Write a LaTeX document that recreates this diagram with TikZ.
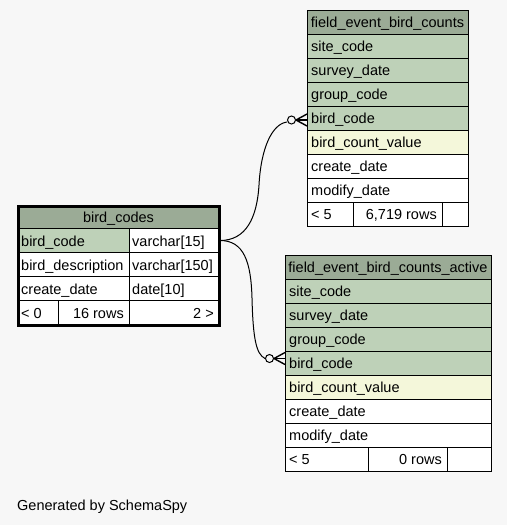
\documentclass[tikz,border=0pt]{standalone}
\usepackage{fontspec}
\setmainfont{Liberation Sans}
\definecolor{hdr}{HTML}{9BAB96}
\definecolor{pk}{HTML}{BED1B8}
\definecolor{idx}{HTML}{F4F7DA}
\definecolor{bgc}{HTML}{F7F7F7}
\tikzset{
  cellbox/.style={draw=black,line width=1pt},
  ltext/.style={anchor=base west,inner sep=0pt,font=\fontsize{14.5}{16}\selectfont},
  rtext/.style={anchor=base east,inner sep=0pt,font=\fontsize{14.5}{16}\selectfont},
  htext/.style={anchor=base,inner sep=0pt,font=\fontsize{14.5}{16}\selectfont},
  conn/.style={draw=black,line width=1pt},
  odot/.style={circle,draw=black,fill=bgc,line width=1pt,minimum size=8pt,inner sep=0pt},
  crow/.style={draw=black,line width=1.4pt}
}
\begin{document}
\begin{tikzpicture}[x=1pt,y=-1pt]
\fill[bgc] (0,0) rectangle (507,525);
\useasboundingbox (0,0) rectangle (507,525);

% ---------- field_event_bird_counts ----------
\filldraw[cellbox,fill=hdr] (307,10) rectangle (468,34);
\filldraw[cellbox,fill=pk] (307,34) rectangle (468,58);
\filldraw[cellbox,fill=pk] (307,58) rectangle (468,82);
\filldraw[cellbox,fill=pk] (307,82) rectangle (468,106);
\filldraw[cellbox,fill=pk] (307,106) rectangle (468,130);
\filldraw[cellbox,fill=idx] (307,130) rectangle (468,154);
\filldraw[cellbox,fill=white] (307,154) rectangle (468,178);
\filldraw[cellbox,fill=white] (307,178) rectangle (468,202);
\filldraw[cellbox,fill=white] (307,202) rectangle (353,226);
\filldraw[cellbox,fill=white] (353,202) rectangle (442,226);
\filldraw[cellbox,fill=white] (442,202) rectangle (468,226);
\node[htext] (fe-h) at (387.5,27) {field\_event\_bird\_counts};
\node[ltext] (fe-1) at (311,51) {site\_code};
\node[ltext] (fe-2) at (311,75) {survey\_date};
\node[ltext] (fe-3) at (311,99) {group\_code};
\node[ltext] (fe-4) at (311,123) {bird\_code};
\node[ltext] (fe-5) at (311,147) {bird\_count\_value};
\node[ltext] (fe-6) at (311,171) {create\_date};
\node[ltext] (fe-7) at (311,195) {modify\_date};
\node[ltext] (fe-f1) at (311,219) {< 5};
\node[rtext] (fe-f2) at (437,219) {6,719 rows};

% ---------- field_event_bird_counts_active ----------
\filldraw[cellbox,fill=hdr] (285,255) rectangle (491,279);
\filldraw[cellbox,fill=pk] (285,279) rectangle (491,303);
\filldraw[cellbox,fill=pk] (285,303) rectangle (491,327);
\filldraw[cellbox,fill=pk] (285,327) rectangle (491,351);
\filldraw[cellbox,fill=pk] (285,351) rectangle (491,375);
\filldraw[cellbox,fill=idx] (285,375) rectangle (491,399);
\filldraw[cellbox,fill=white] (285,399) rectangle (491,423);
\filldraw[cellbox,fill=white] (285,423) rectangle (491,447);
\filldraw[cellbox,fill=white] (285,447) rectangle (368,471);
\filldraw[cellbox,fill=white] (368,447) rectangle (447,471);
\filldraw[cellbox,fill=white] (447,447) rectangle (491,471);
\node[htext] (fa-h) at (388,272) {field\_event\_bird\_counts\_active};
\node[ltext] (fa-1) at (289,296) {site\_code};
\node[ltext] (fa-2) at (289,320) {survey\_date};
\node[ltext] (fa-3) at (289,344) {group\_code};
\node[ltext] (fa-4) at (289,368) {bird\_code};
\node[ltext] (fa-5) at (289,392) {bird\_count\_value};
\node[ltext] (fa-6) at (289,416) {create\_date};
\node[ltext] (fa-7) at (289,440) {modify\_date};
\node[ltext] (fa-f1) at (289,464) {< 5};
\node[rtext] (fa-f2) at (442,464) {0 rows};

% ---------- bird_codes ----------
\filldraw[cellbox,fill=hdr] (18,206) rectangle (219,228.5);
\filldraw[cellbox,fill=pk] (18,228.5) rectangle (129,252.5);
\filldraw[cellbox,fill=white] (129,228.5) rectangle (219,252.5);
\filldraw[cellbox,fill=white] (18,252.5) rectangle (129,276.5);
\filldraw[cellbox,fill=white] (129,252.5) rectangle (219,276.5);
\filldraw[cellbox,fill=white] (18,276.5) rectangle (129,300.5);
\filldraw[cellbox,fill=white] (129,276.5) rectangle (219,300.5);
\filldraw[cellbox,fill=white] (18,300.5) rectangle (58,325);
\filldraw[cellbox,fill=white] (58,300.5) rectangle (129,325);
\filldraw[cellbox,fill=white] (129,300.5) rectangle (219,325);
\draw[draw=black,line width=3pt] (18,206) rectangle (219,325);
\node[htext] (bc-h) at (118.5,222) {bird\_codes};
\node[ltext] (bc-1) at (21,246) {bird\_code};
\node[ltext] (bc-1t) at (132,246) {varchar[15]};
\node[ltext] (bc-2) at (21,270) {bird\_description};
\node[ltext] (bc-2t) at (132,270) {varchar[150]};
\node[ltext] (bc-3) at (21,294) {create\_date};
\node[ltext] (bc-3t) at (132,294) {date[10]};
\node[ltext] (bc-f1) at (21,318) {< 0};
\node[rtext] (bc-f2) at (124,318) {16 rows};
\node[rtext] (bc-f3) at (214,318) {2 >};

% ---------- connectors ----------
\coordinate (bc-port) at (220,240.5);
\coordinate (fe-port) at (307,120);
\coordinate (fa-port) at (285,358.5);
\node[odot] (fe-o) at (291.5,120) {};
\node[odot] (fa-o) at (269.5,358.5) {};
\coordinate (fe-c) at (296,120);
\coordinate (fa-c) at (274,358.5);

\draw[conn] (bc-port) .. controls (246,240.5) and (257,218) .. (259,185)
  .. controls (261,148) and (272,124) .. (fe-o.west |- 0,122);
\draw[conn] (bc-port) .. controls (244,240.5) and (251,262) .. (252,298)
  .. controls (253,338) and (256,354) .. (fa-o.west);

\draw[crow] (fe-o.east) -- (fe-port);
\draw[crow] (fe-c) -- (fe-port |- 0,114);
\draw[crow] (fe-c) -- (fe-port |- 0,126);
\draw[crow] (fa-o.east) -- (fa-port);
\draw[crow] (fa-c) -- (fa-port |- 0,352.5);
\draw[crow] (fa-c) -- (fa-port |- 0,364.5);

\node[ltext] (gen) at (17,510) {Generated by SchemaSpy};
\end{tikzpicture}
\end{document}
